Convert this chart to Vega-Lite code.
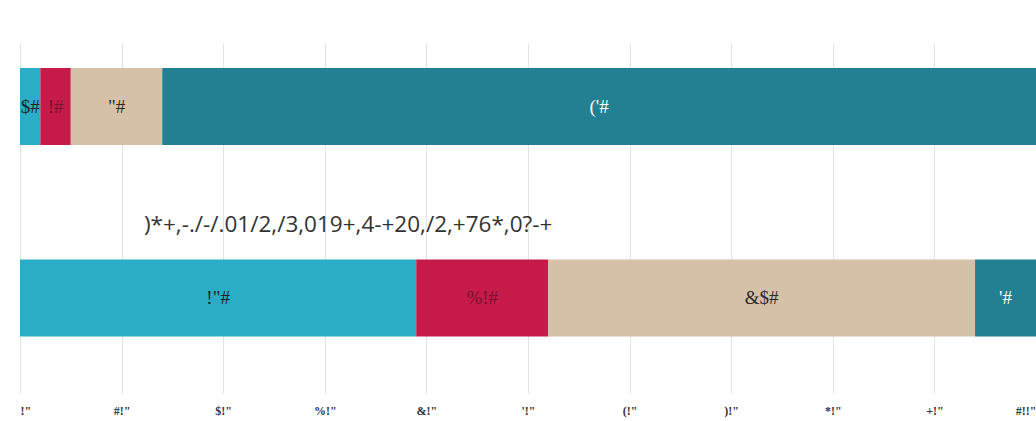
{
  "$schema": "https://vega.github.io/schema/vega-lite/v6.json",
  "width": 1016,
  "height": 350,
  "autosize": "none",
  "padding": {"left": 20, "top": 43, "right": 0, "bottom": 28},
  "background": "white",
  "config": {"view": {"stroke": null}},
  "layer": [
    {
      "data": {"values": [
        {"bar": "A", "k": 1, "pct": 2, "label": "$#"},
        {"bar": "A", "k": 2, "pct": 3, "label": "!#"},
        {"bar": "A", "k": 3, "pct": 9, "label": "\"#"},
        {"bar": "A", "k": 4, "pct": 86, "label": "('#"},
        {"bar": "B", "k": 1, "pct": 39, "label": "!\"#"},
        {"bar": "B", "k": 2, "pct": 13, "label": "%!#"},
        {"bar": "B", "k": 3, "pct": 42, "label": "&$#"},
        {"bar": "B", "k": 4, "pct": 6, "label": "'#"}
      ]},
      "resolve": {"scale": {"color": "independent"}},
      "layer": [
        {
          "mark": {"type": "bar"},
          "encoding": {
            "y": {"field": "bar", "type": "nominal", "axis": null,
                  "scale": {"paddingInner": 0.598, "paddingOuter": 0.2128, "align": 0.307}},
            "x": {"field": "pct", "type": "quantitative", "stack": "zero",
                  "scale": {"domain": [0, 100], "nice": false},
                  "axis": {"values": [0,10,20,30,40,50,60,70,80,90,100], "grid": true, "gridColor": "#e2e2e2", "gridWidth": 1,
                           "ticks": false, "domain": false, "title": null, "labelPadding": 12,
                           "labelFont": "Liberation Serif", "labelFontWeight": "bold", "labelFontSize": 12, "labelColor": "#333",
                           "labelExpr": "['!\"','#!\"','$!\"','%!\"','&!\"','\\'!\"','(!\"',')!\"','*!\"','+!\"','#!!\"'][round(datum.value/10)]"}},
            "color": {"field": "k", "type": "ordinal", "legend": null,
                      "scale": {"domain": [1,2,3,4], "range": ["#2aadc6", "#c61a48", "#d5c1a7", "#238092"]}},
            "order": {"field": "k"}
          }
        },
        {
          "mark": {"type": "text", "font": "Liberation Serif", "fontSize": 19, "baseline": "middle", "align": "center"},
          "encoding": {
            "y": {"field": "bar", "type": "nominal"},
            "x": {"field": "pct", "type": "quantitative", "stack": "zero", "bandPosition": 0.5},
            "order": {"field": "k"},
            "text": {"field": "label"},
            "color": {"field": "k", "type": "ordinal", "legend": null,
                      "scale": {"domain": [1,2,3,4], "range": ["#222222", "#7a1030", "#2a2a2a", "#ffffff"]}}
          }
        }
      ]
    },
    {
      "data": {"values": [{"note": ")*+,-./-/.01/2,/3,019+,4-+20,/2,+76*,0?-+"}]},
      "mark": {"type": "text", "font": "Open Sans", "fontSize": 22.5, "color": "#333333", "baseline": "middle", "align": "center", "dy": -73},
      "encoding": {
        "x": {"datum": 32.3, "type": "quantitative"},
        "y": {"datum": "B", "type": "nominal"},
        "text": {"field": "note"}
      }
    }
  ]
}
